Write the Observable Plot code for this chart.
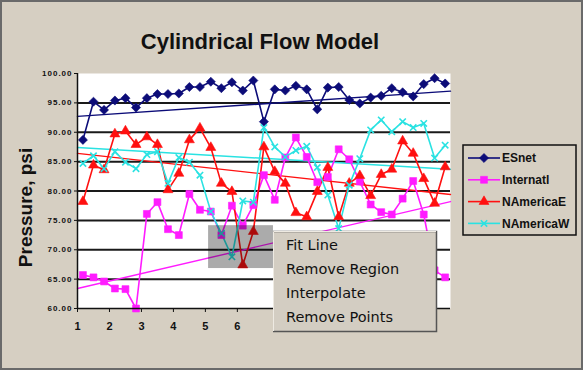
<!DOCTYPE html>
<html>
<head>
<meta charset="utf-8">
<script src="https://cdn.jsdelivr.net/npm/d3@7"></script>
<script src="https://cdn.jsdelivr.net/npm/@observablehq/plot@0.6"></script>
<style>
  html, body { margin:0; padding:0; background:#d6cfc2; }
  #wrap { position:relative; width:583px; height:370px; overflow:hidden; background:#d6cfc2; }
  #wrap svg { position:absolute; left:0; top:0; }
  .chart g[aria-label="y-axis tick label"] { font-weight:bold; letter-spacing:1px; }
  .chart g[aria-label="x-axis tick label"] { font-weight:bold; }
</style>
</head>
<body>
<div id="wrap"></div>
<script>
// ---------- data ----------
const titleText = "Cylindrical Flow Model";
const yLabel = "Pressure, psi";
const seriesNames = ["ESnet", "Internatl", "NAmericaE", "NAmericaW"];
const times = [1.17, 1.5, 1.83, 2.17, 2.5, 2.83, 3.17, 3.5, 3.83, 4.17, 4.5, 4.83,
  5.17, 5.5, 5.83, 6.17, 6.5, 6.83, 7.17, 7.5, 7.83, 8.17, 8.5, 8.83, 9.17, 9.5,
  9.83, 10.17, 10.5, 10.83, 11.17, 11.5, 11.83, 12.17, 12.5];
const esnet = [88.7, 95.2, 93.8, 95.4, 95.8, 94.2, 95.8, 96.5, 96.5, 96.6, 97.7, 97.7,
  98.6, 97.5, 98.5, 97.1, 98.8, 91.8, 97.3, 97.1, 97.9, 97.3, 93.9, 97.6, 97.7, 95.5,
  94.9, 95.9, 96.2, 97.5, 96.8, 96.1, 98.2, 99.2, 98.3];
const internatl = [65.7, 65.3, 64.6, 63.4, 63.3, 60.0, 76.1, 78.1, 73.5, 72.5, 79.5, 76.8,
  76.5, 72.5, 77.5, 74.1, 77.6, 82.7, 78.5, 85.7, 89.1, 85.8, 81.5, 82.4, 87.1, 85.4,
  81.6, 77.7, 76.4, 76.0, 78.7, 81.7, 76.0, 66.5, 65.3];
const namericaE = [78.2, 84.4, 83.6, 89.7, 90.2, 87.9, 89.2, 87.9, 80.2, 83.0, 88.7, 90.7,
  87.4, 81.3, 79.9, 67.4, 73.1, 87.5, 83.3, 81.3, 76.3, 75.6, 79.9, 84.0, 75.6, 81.3,
  82.6, 79.2, 82.8, 83.7, 88.5, 86.4, 82.1, 77.9, 84.1];
const namericaW = [84.7, 86.0, 83.8, 86.7, 84.9, 83.8, 86.2, 86.7, 81.3, 85.7, 84.9, 82.7,
  76.5, 72.8, 68.8, 78.3, 78.1, 90.8, 87.5, 85.8, 86.9, 87.6, 84.0, 79.3, 73.6, 81.0,
  85.5, 90.4, 92.1, 90.1, 91.8, 90.8, 91.5, 85.6, 87.8];
// fitted trend lines: value at start and end of the time range
const trendX = [1, 12.667];
const trendStart = [92.7, 63.4, 86.4, 87.4];
const trendEnd = [97.0, 78.2, 79.4, 83.7];
// visible x tick labels (the rest lie under the context menu)
const xTicks = [1, 2, 3, 4, 5, 6];
const yTicks = [60, 65, 70, 75, 80, 85, 90, 95, 100];
// selected region (time from/to, pressure from/to)
const selX = [5.10, 7.13];
const selY = [66.8, 74.1];
const menuItems = ["Fit Line", "Remove Region", "Interpolate", "Remove Points"];

// ---------- styles ----------
const seriesColors = ["#0c0c78", "#ff1cff", "#ff1010", "#2ae2e2"];
const seriesSymbols = ["diamond2", "square", "triangle", "times"];
const markerR = [4.1, 3.9, 3.7, 3.0];
const symbolTypes = { diamond2: d3.symbolDiamond2, square: d3.symbolSquare, triangle: d3.symbolTriangle, times: d3.symbolTimes };

const W = 583, H = 370;
const seriesValues = [esnet, internatl, namericaE, namericaW];
const rows = [];
seriesNames.forEach((s, i) => times.forEach((t, j) => rows.push({ s, x: t, y: seriesValues[i][j] })));
const trendRows = [];
seriesNames.forEach((s, i) => {
  trendRows.push({ s, x: trendX[0], y: trendStart[i] });
  trendRows.push({ s, x: trendX[1], y: trendEnd[i] });
});

const dotMarks = seriesNames.map((s, i) => {
  const d = rows.filter(r => r.s === s);
  if (seriesSymbols[i] === "times")
    return Plot.dot(d, { x: "x", y: "y", symbol: seriesSymbols[i], r: markerR[i], stroke: seriesColors[i], strokeWidth: 1.6 });
  return Plot.dot(d, { x: "x", y: "y", symbol: seriesSymbols[i], r: markerR[i], fill: seriesColors[i], stroke: seriesColors[i], strokeWidth: 0.6 });
});

const chart = Plot.plot({
  className: "chart",
  width: W, height: H,
  marginLeft: 77, marginRight: 133, marginTop: 73, marginBottom: 62,
  x: { domain: trendX },
  y: { domain: [yTicks[0], yTicks[yTicks.length - 1]] },
  color: { domain: seriesNames, range: seriesColors },
  style: { background: "transparent", fontFamily: "'Liberation Sans', Arial, sans-serif", color: "#111" },
  marks: [
    Plot.frame({ fill: "#ffffff", stroke: null }),
    Plot.ruleY(yTicks.slice(1, -1), { stroke: "#1a1a1a", strokeWidth: 2 }),
    Plot.line(trendRows, { x: "x", y: "y", z: "s", stroke: "s", strokeWidth: 1.4 }),
    Plot.line(rows, { x: "x", y: "y", z: "s", stroke: "s", strokeWidth: 1.6 }),
    ...dotMarks,
    Plot.rect([{ x1: selX[0], x2: selX[1], y1: selY[0], y2: selY[1] }], { x1: "x1", x2: "x2", y1: "y1", y2: "y2", fill: "#000", fillOpacity: 0.33 }),
    Plot.ruleX([trendX[0]], { stroke: "#111", strokeWidth: 1.5 }),
    Plot.ruleY([yTicks[0]], { stroke: "#111", strokeWidth: 1.5 }),
    Plot.axisY({ ticks: yTicks, tickFormat: d => d.toFixed(2), tickSize: 3, tickPadding: 2, fontSize: 8, fontWeight: "bold", label: null }),
    Plot.axisX({ ticks: xTicks, tickFormat: d => String(d), tickSize: 4, tickPadding: 10, fontSize: 11, fontWeight: "bold", label: null })
  ]
});
document.getElementById("wrap").appendChild(chart);

// ---------- overlay: title, axis label, legend, context menu ----------
const ov = d3.select("#wrap").append("svg").attr("width", W).attr("height", H)
  .style("font-family", "'Liberation Sans', Arial, sans-serif");

ov.append("text").attr("x", 260).attr("y", 49).attr("text-anchor", "middle")
  .attr("font-size", 22).attr("font-weight", "bold").attr("fill", "#111").text(titleText);

ov.append("text").attr("transform", "translate(31.5,207.5) rotate(-90)").attr("text-anchor", "middle")
  .attr("font-size", 19).attr("font-weight", "bold").attr("fill", "#111").text(yLabel);

const lg = ov.append("g");
lg.append("rect").attr("x", 463).attr("y", 145).attr("width", 113).attr("height", 90)
  .attr("fill", "none").attr("stroke", "#111").attr("stroke-width", 1.5);
seriesNames.forEach((s, i) => {
  const y = 158 + i * 21.8;
  lg.append("line").attr("x1", 468).attr("x2", 500).attr("y1", y).attr("y2", y)
    .attr("stroke", seriesColors[i]).attr("stroke-width", 1.6);
  const sym = d3.symbol(symbolTypes[seriesSymbols[i]], Math.PI * markerR[i] * markerR[i]);
  const p = lg.append("path").attr("d", sym()).attr("transform", `translate(484,${y})`);
  if (seriesSymbols[i] === "times") p.attr("fill", "none").attr("stroke", seriesColors[i]).attr("stroke-width", 1.6);
  else p.attr("fill", seriesColors[i]).attr("stroke", seriesColors[i]).attr("stroke-width", 0.6);
  lg.append("text").attr("x", 502).attr("y", y + 4.3).attr("font-size", 12).attr("font-weight", "bold")
    .attr("fill", "#111").text(s);
});

const mg = ov.append("g");
mg.append("rect").attr("x", 273).attr("y", 231).attr("width", 164).attr("height", 101).attr("fill", "#d3cdc2");
mg.append("path").attr("d", "M273,231.5H436.5V331.5H273").attr("fill", "none").attr("stroke", "#555").attr("stroke-width", 1.5);
mg.append("path").attr("d", "M273.5,331V231.5H436").attr("fill", "none").attr("stroke", "#eeeae2").attr("stroke-width", 1);
menuItems.forEach((t, i) => {
  mg.append("text").attr("x", 286).attr("y", 250.3 + 24 * i).attr("font-family", "'DejaVu Sans', Verdana, sans-serif")
    .attr("font-size", 14.5).attr("fill", "#111").text(t);
});

ov.append("rect").attr("x", 1).attr("y", 1).attr("width", W - 2).attr("height", H - 2)
  .attr("fill", "none").attr("stroke", "#6a6a6a").attr("stroke-width", 2);
</script>
</body>
</html>
